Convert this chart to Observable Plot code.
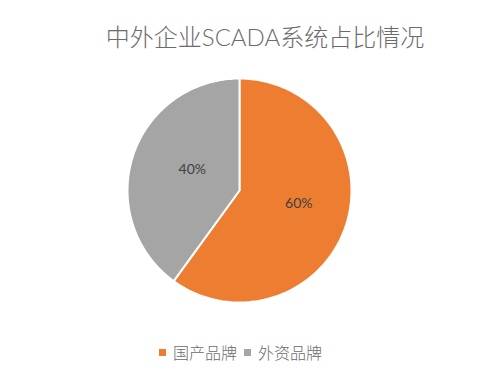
<!DOCTYPE html>
<html>
<head>
<meta charset="utf-8">
<script src="https://cdn.jsdelivr.net/npm/d3@7"></script>
<script src="https://cdn.jsdelivr.net/npm/@observablehq/plot@0.6"></script>
<style>
  html, body { margin: 0; padding: 0; background: #fff; }
  body { width: 504px; height: 374px; position: relative; overflow: hidden; font-family: "Noto Sans CJK SC", "Lato", sans-serif; }
  #title { position: absolute; left: 0; top: 22px; width: 504px; padding-left: 26px; box-sizing: border-box; text-align: center; font-size: 24px; line-height: 30px; color: #6b6b6b; font-family: "Lato", "Noto Sans CJK SC", sans-serif; font-weight: 300; }
  #chart { position: absolute; left: 0; top: 60px; }
  #legend { position: absolute; left: 0; top: 341px; width: 504px; display: flex; justify-content: center; gap: 7px; padding-right: 23px; box-sizing: border-box; font-size: 16px; line-height: 22px; color: #6b6b6b; font-weight: 300; }
  .item { display: flex; align-items: center; gap: 7px; }
  .sw { width: 7px; height: 7px; display: inline-block; }
</style>
</head>
<body>
<div id="title">中外企业SCADA系统占比情况</div>
<div id="chart"></div>
<div id="legend"></div>
<script>
const categories = ["国产品牌", "外资品牌"];
const values = [60, 40];
const labels = ["60%", "40%"];
const colors = ["#ED7D31", "#A5A5A5"];

const slices = d3.pie().sort(null).value(d => d.value)(
  categories.map((c, i) => ({name: c, value: values[i], label: labels[i]}))
);

// polygon points of each slice on the unit circle (angle clockwise from top)
const polyRows = [];
slices.forEach((s) => {
  const name = s.data.name;
  polyRows.push({name, x: 0, y: 0});
  const n = 120;
  for (let j = 0; j <= n; j++) {
    const a = s.startAngle + (s.endAngle - s.startAngle) * j / n;
    polyRows.push({name, x: Math.sin(a), y: Math.cos(a)});
  }
  polyRows.push({name, x: 0, y: 0});
});

const labelRows = slices.map(s => {
  const a = (s.startAngle + s.endAngle) / 2;
  return {name: s.data.name, label: s.data.label, x: 0.5 * Math.sin(a), y: 0.5 * Math.cos(a)};
});

const chart = Plot.plot({
  width: 504,
  height: 270,
  marginLeft: 127,
  marginRight: 153,
  marginTop: 18,
  marginBottom: 28,
  x: {domain: [-1, 1], axis: null},
  y: {domain: [-1, 1], axis: null},
  color: {domain: categories, range: colors},
  marks: [
    Plot.line(polyRows, {x: "x", y: "y", z: "name", fill: "name", stroke: "white", strokeWidth: 2, curve: "linear-closed"}),
    Plot.text(labelRows, {x: "x", y: "y", text: "label", dx: 6, dy: -4, fill: "#404040", fontSize: 14, fontFamily: "Lato, sans-serif"})
  ]
});
document.getElementById("chart").appendChild(chart);

const legend = document.getElementById("legend");
categories.forEach((c, i) => {
  const item = document.createElement("div");
  item.className = "item";
  const sw = document.createElement("span");
  sw.className = "sw";
  sw.style.background = colors[i];
  const t = document.createElement("span");
  t.textContent = c;
  item.appendChild(sw);
  item.appendChild(t);
  legend.appendChild(item);
});
</script>
</body>
</html>
